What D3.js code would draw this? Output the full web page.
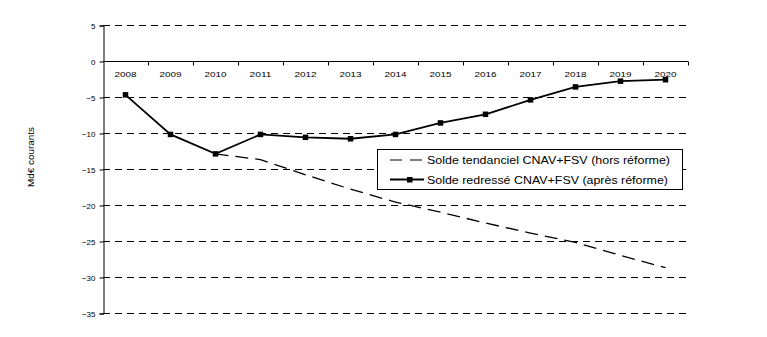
<!DOCTYPE html>
<html>
<head>
<meta charset="utf-8">
<script src="https://cdn.jsdelivr.net/npm/d3@7"></script>
<style>
  body { margin: 0; background: #fff; }
  svg { display: block; font-family: "Liberation Sans", Arial, sans-serif; }
</style>
</head>
<body>
<svg id="chart" width="767" height="337"></svg>
<script>
// Years on the category axis
const years = ["2008","2009","2010","2011","2012","2013","2014","2015","2016","2017","2018","2019","2020"];
// Balance after reform (Md€)
const soldeRedresse = [-4.7, -10.2, -12.9, -10.2, -10.6, -10.8, -10.2, -8.6, -7.4, -5.4, -3.6, -2.8, -2.6];
// Trend balance without reform (Md€), starts in 2010
const soldeTendanciel = [null, null, -12.9, -13.7, -15.8, -17.8, -19.6, -21.0, -22.5, -23.9, -25.2, -27.0, -28.7];
const yTicks = [5, 0, -5, -10, -15, -20, -25, -30, -35];
const legendLabels = ["Solde tendanciel CNAV+FSV (hors réforme)", "Solde redressé CNAV+FSV (après réforme)"];

(function () {
const svg = d3.select("#chart");
const plotLeft = 103, plotRight = 688, plotTop = 25, plotBottom = 313;

const x = d3.scaleBand().domain(years).range([plotLeft, plotRight]);
const y = d3.scaleLinear().domain([-35, 5]).range([plotBottom, plotTop]);
const crisp = v => Math.round(v) + 0.5;

// Dashed grid lines
svg.append("g").selectAll("line")
  .data(yTicks.filter(d => d !== 0))
  .join("line")
  .attr("x1", plotLeft).attr("x2", plotRight)
  .attr("y1", d => crisp(y(d))).attr("y2", d => crisp(y(d)))
  .attr("stroke", "#000").attr("stroke-width", 1)
  .attr("stroke-dasharray", "7,5");

// Y axis
const yAxis = svg.append("g")
  .attr("transform", `translate(${plotLeft + 0.5},0.5)`)
  .call(d3.axisLeft(y).tickValues(yTicks).tickSize(4).tickPadding(4).tickFormat(d3.format("d")));
yAxis.select(".domain").attr("stroke", "#000");
yAxis.selectAll(".tick line").attr("stroke", "#000");
yAxis.selectAll("text").attr("font-size", 8).attr("fill", "#000")
  .attr("font-family", "Liberation Sans, Arial, sans-serif");

// X axis along zero
const xAxis = svg.append("g")
  .attr("transform", `translate(0,${y(0)})`)
  .call(d3.axisBottom(x).tickSize(0).tickPadding(10));
xAxis.select(".domain").remove();
xAxis.selectAll("text").attr("font-size", 8).attr("fill", "#000")
  .attr("font-family", "Liberation Sans, Arial, sans-serif")
  .attr("textLength", 22).attr("lengthAdjust", "spacingAndGlyphs");
svg.append("line")
  .attr("x1", plotLeft).attr("x2", plotRight).attr("y1", crisp(y(0))).attr("y2", crisp(y(0)))
  .attr("stroke", "#000").attr("stroke-width", 1);
// Category boundary ticks
svg.append("g").selectAll("line")
  .data(years)
  .join("line")
  .attr("x1", d => crisp(x(d) + x.step()))
  .attr("x2", d => crisp(x(d) + x.step()))
  .attr("y1", crisp(y(0))).attr("y2", crisp(y(0)) + 4)
  .attr("stroke", "#000");

// Y axis title
svg.append("text")
  .attr("transform", `translate(34,157) rotate(-90)`)
  .attr("text-anchor", "middle")
  .attr("font-size", 8.5)
  .attr("textLength", 60).attr("lengthAdjust", "spacingAndGlyphs")
  .text("Md€ courants");

const cx = d => x(d) + x.bandwidth() / 2;

// Trend line (dashed)
const lineT = d3.line()
  .defined(d => d[1] !== null)
  .x(d => cx(d[0])).y(d => y(d[1]));
svg.append("path")
  .datum(years.map((yr, i) => [yr, soldeTendanciel[i]]))
  .attr("d", lineT)
  .attr("fill", "none").attr("stroke", "#000")
  .attr("stroke-width", 1.3).attr("stroke-dasharray", "13,7");

// Reform line (solid with markers)
const lineR = d3.line().x(d => cx(d[0])).y(d => y(d[1]));
const dataR = years.map((yr, i) => [yr, soldeRedresse[i]]);
svg.append("path")
  .datum(dataR)
  .attr("d", lineR)
  .attr("fill", "none").attr("stroke", "#000").attr("stroke-width", 1.8);
svg.append("g").selectAll("rect")
  .data(dataR)
  .join("rect")
  .attr("x", d => cx(d[0]) - 2.75).attr("y", d => y(d[1]) - 2.75)
  .attr("width", 5.5).attr("height", 5.5).attr("fill", "#000");

// Legend
const lg = svg.append("g");
lg.append("rect")
  .attr("x", 377.5).attr("y", 149.5).attr("width", 305).attr("height", 40)
  .attr("fill", "#fff").attr("stroke", "#000").attr("stroke-width", 1);
lg.append("line")
  .attr("x1", 390).attr("x2", 424).attr("y1", 160).attr("y2", 160)
  .attr("stroke", "#000").attr("stroke-width", 1.2).attr("stroke-dasharray", "12,8");
lg.append("line")
  .attr("x1", 390).attr("x2", 424).attr("y1", 179.5).attr("y2", 179.5)
  .attr("stroke", "#000").attr("stroke-width", 2.2);
lg.append("rect")
  .attr("x", 407).attr("y", 177).attr("width", 5.5).attr("height", 5.5).attr("fill", "#000");
lg.selectAll("text")
  .data(legendLabels)
  .join("text")
  .attr("x", 427).attr("y", (d, i) => 164 + i * 19.5)
  .attr("font-size", 10.5)
  .attr("textLength", (d, i) => i === 0 ? 243 : 241)
  .attr("lengthAdjust", "spacingAndGlyphs")
  .text(d => d);
})();
</script>
</body>
</html>
